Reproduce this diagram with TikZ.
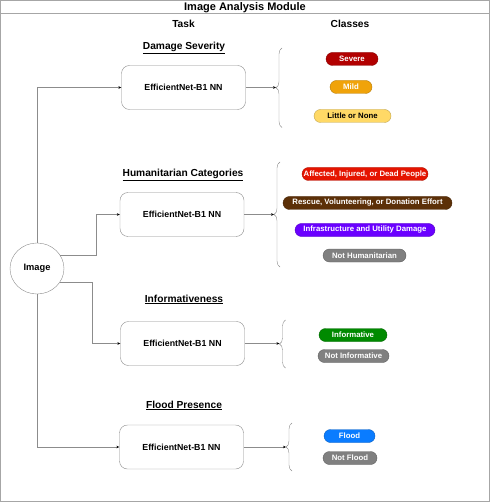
\documentclass[tikz,border=0pt]{standalone}
\usepackage{fontspec}
\setmainfont{Liberation Sans}
\usetikzlibrary{shapes.geometric,arrows.meta,decorations.pathreplacing}

\definecolor{linegray}{HTML}{8C8C8C}
\definecolor{framegray}{HTML}{A6A6A6}
\definecolor{sevred}{HTML}{B20000}
\definecolor{mildorange}{HTML}{F0A30A}
\definecolor{littleyellow}{HTML}{FFD966}
\definecolor{peoplered}{HTML}{E51400}
\definecolor{rescuebrown}{HTML}{5C3008}
\definecolor{infraviolet}{HTML}{6A00FF}
\definecolor{notgray}{HTML}{808080}
\definecolor{infogreen}{HTML}{008A00}
\definecolor{floodblue}{HTML}{0A7CFF}

\begin{document}
\begin{tikzpicture}[x=1pt, y=-1pt,
    box/.style={rectangle, draw=linegray, rounded corners=8pt, minimum width=124pt, minimum height=44pt, align=center, font=\fontsize{8.8}{10}\selectfont\bfseries},
    pill/.style={rectangle, draw=#1!75!black, fill=#1, rounded corners=6.5pt, minimum height=13pt, inner sep=0pt, text=white, font=\fontsize{7.8}{9}\selectfont\bfseries},
    heading/.style={anchor=base, font=\fontsize{10.2}{12}\selectfont\bfseries},
    curly/.style={draw=linegray, decorate, decoration={brace, amplitude=6pt}},
    conn/.style={draw=linegray, line width=0.6pt, -{Stealth[length=3pt, width=2.6pt, color=black]}}
]
\useasboundingbox (0,0) rectangle (490,502);

% Frame and title bar
\draw[framegray, line width=0.9pt] (0.5,0.5) rectangle (489.5,501.5);
\draw[framegray, line width=0.9pt] (0.5,13.5) -- (489.5,13.5);
\node[anchor=base, font=\fontsize{11}{13}\selectfont\bfseries] (title) at (245,10.3) {Image Analysis Module};

% Column headings
\node[heading] (task) at (183.5,27.3) {Task};
\node[heading] (classes) at (350,27.3) {Classes};

% Input
\node[ellipse, draw=linegray, minimum width=54pt, minimum height=51pt, inner sep=0pt, font=\fontsize{9.3}{11}\selectfont\bfseries] (img) at (37,268.5) {Image};

% Tasks
\node[heading] (dmgtitle) at (184,49.5) {\underline{Damage Severity}};
\node[box] (dmg) at (183.5,87.5) {EfficientNet-B1 NN};

\node[heading] (humtitle) at (183,176.5) {\underline{Humanitarian Categories}};
\node[box] (hum) at (182,214.5) {EfficientNet-B1 NN};

\node[heading] (inftitle) at (184,302) {\underline{Informativeness}};
\node[box] (inf) at (182.5,343.5) {EfficientNet-B1 NN};

\node[heading] (fldtitle) at (184,408) {\underline{Flood Presence}};
\node[box] (fld) at (181.5,447) {EfficientNet-B1 NN};

% Braces
\draw[curly] (282,127.5) -- (282,48);
\coordinate (dmgtip) at (276,87.5);
\draw[curly] (280,267) -- (280,162);
\coordinate (humtip) at (274,214.5);
\draw[curly] (285.5,368) -- (285.5,320);
\coordinate (inftip) at (279.5,343.5);
\draw[curly] (292,471) -- (292,423);
\coordinate (fldtip) at (286,447);

% Classes
\node[pill=sevred, minimum width=52pt] (severe) at (352,59) {Severe};
\node[pill=mildorange, minimum width=42pt] (mild) at (351,87) {Mild};
\node[pill=littleyellow, minimum width=77pt, text=black] (little) at (352.5,116) {Little or None};

\node[pill=peoplered, minimum width=126pt] (people) at (365,174) {Affected, Injured, or Dead People};
\node[pill=rescuebrown, minimum width=169pt] (rescue) at (367.5,203) {Rescue, Volunteering, or Donation Effort};
\node[pill=infraviolet, minimum width=140pt] (infra) at (365,230) {Infrastructure and Utility Damage};
\node[pill=notgray, minimum width=83pt] (nothum) at (364.5,255.5) {Not Humanitarian};

\node[pill=infogreen, minimum width=68pt] (informative) at (353,335) {Informative};
\node[pill=notgray, minimum width=71pt] (notinf) at (353.5,356) {Not Informative};

\node[pill=floodblue, minimum width=51pt] (flood) at (349.5,436) {Flood};
\node[pill=notgray, minimum width=54pt] (notflood) at (350,458) {Not Flood};

% Arrows - image to tasks
\draw[conn] (img.north) |- (dmg);
\draw[conn] (img.30) -- ++(36,0) |- (hum);
\draw[conn] (img.-30) -- ++(32,0) |- (inf);
\draw[conn] (img.south) |- (fld);

% Arrows - tasks to classes
\draw[conn] (dmg) -- (dmgtip);
\draw[conn] (hum) -- (humtip);
\draw[conn] (inf) -- (inftip);
\draw[conn] (fld) -- (fldtip);

\end{tikzpicture}
\end{document}
